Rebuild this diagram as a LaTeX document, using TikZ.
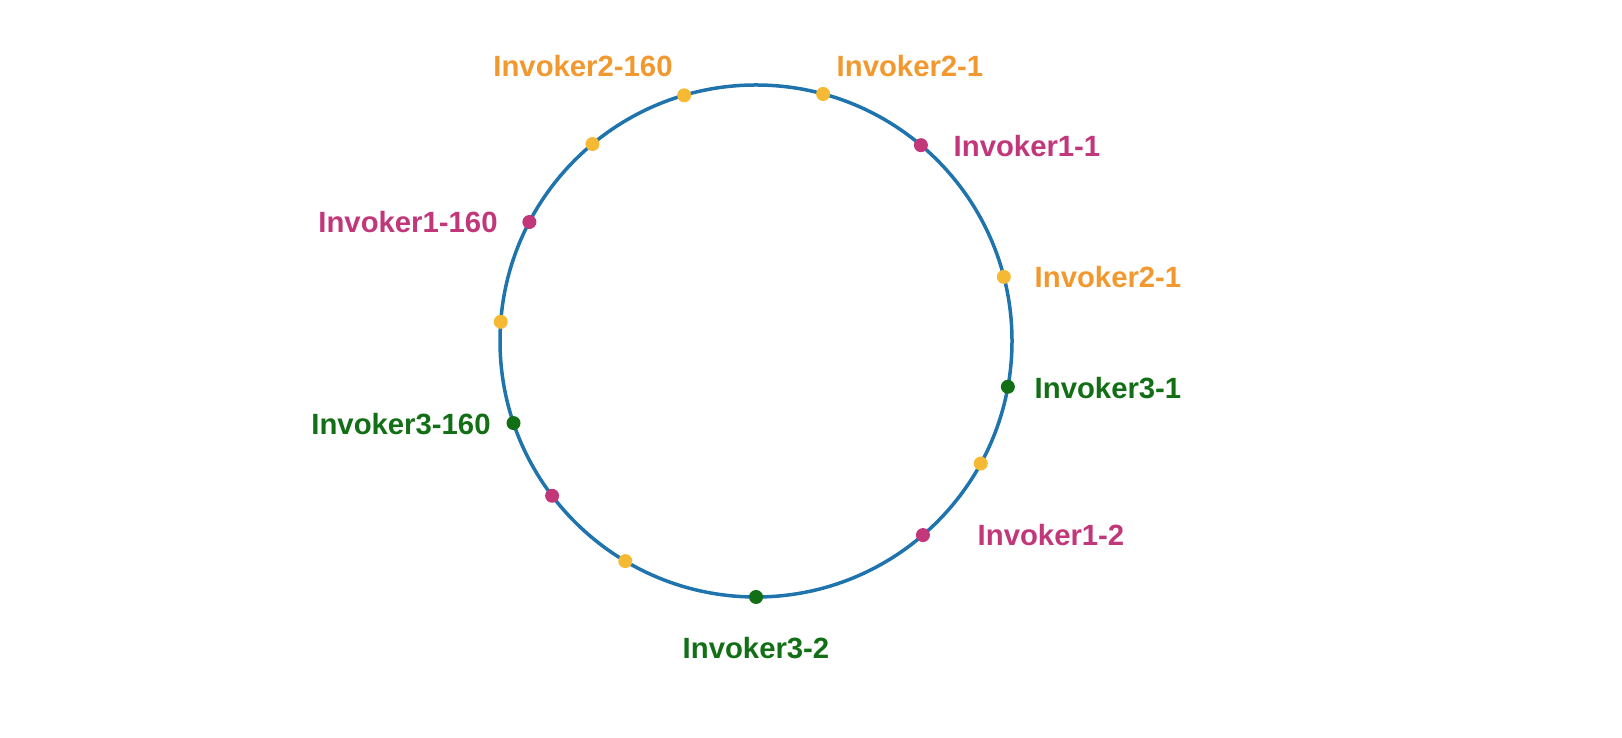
\documentclass[tikz,border=0pt]{standalone}
\usepackage{fontspec}
\setmainfont{Liberation Sans}
\usetikzlibrary{calc}
\definecolor{ringblue}{HTML}{1F74AE}
\definecolor{invorange}{HTML}{F1982F}
\definecolor{invyellow}{HTML}{F6B933}
\definecolor{invpink}{HTML}{C1377A}
\definecolor{invgreen}{HTML}{136F16}
\tikzset{
	dot/.style={circle, inner sep=0pt, minimum size=7pt},
	ydot/.style={dot, fill=invyellow},
	pdot/.style={dot, fill=invpink},
	gdot/.style={dot, fill=invgreen},
	lbl/.style={font=\fontsize{14.65}{17}\selectfont\bfseries, inner sep=0pt},
}

\begin{document}
\begin{tikzpicture}[x=0.5pt, y=0.5pt]
		%%%%% START %%%%%
		\useasboundingbox (0, 0) rectangle (1622, 738);
		\coordinate (c) at (756, 397);
		\draw[ringblue, line width=1.75pt] (c) circle (128pt);
		
		\node[ydot] (y1) at ($(c)+(106.3:256)$) {};
		\node[ydot] (y2) at ($(c)+(74.8:256)$) {};
		\node[pdot] (p1) at ($(c)+(49.9:256)$) {};
		\node[ydot] (y3) at ($(c)+(14.5:256)$) {};
		\node[gdot] (g1) at ($(c)+(-10.3:256)$) {};
		\node[ydot] (y4) at ($(c)+(-28.6:256)$) {};
		\node[pdot] (p2) at ($(c)+(-49.3:256)$) {};
		\node[gdot] (g2) at ($(c)+(-90:256)$) {};
		\node[ydot] (y5) at ($(c)+(-120.7:256)$) {};
		\node[pdot] (p3) at ($(c)+(-142.8:256)$) {};
		\node[gdot] (g3) at ($(c)+(-161.3:256)$) {};
		\node[ydot] (y6) at ($(c)+(175.7:256)$) {};
		\node[pdot] (p4) at ($(c)+(152.3:256)$) {};
		\node[ydot] (y7) at ($(c)+(129.7:256)$) {};
		
		\node[lbl, invorange] (ly1) at (583, 672) {Invoker2-160};
		\node[lbl, invorange] (ly2) at (910, 672) {Invoker2-1};
		\node[lbl, invpink] (lp1) at (1027, 592) {Invoker1-1};
		\node[lbl, invorange] (ly3) at (1108, 461) {Invoker2-1};
		\node[lbl, invgreen] (lg1) at (1108, 350) {Invoker3-1};
		\node[lbl, invpink] (lp2) at (1051, 203) {Invoker1-2};
		\node[lbl, invgreen] (lg2) at (756, 90) {Invoker3-2};
		\node[lbl, invgreen] (lg3) at (401, 314) {Invoker3-160};
		\node[lbl, invpink] (lp4) at (408, 516) {Invoker1-160};
		%%%%% END %%%%%
	\end{tikzpicture}
\end{document}
